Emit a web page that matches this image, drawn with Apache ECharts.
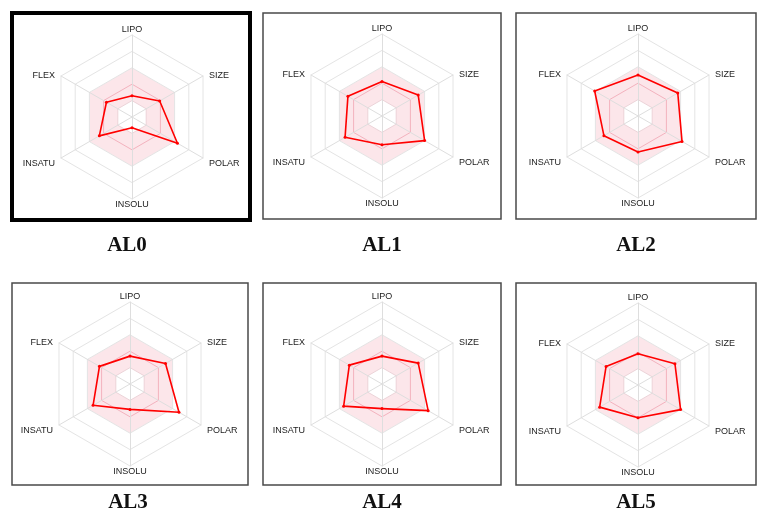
<!DOCTYPE html>
<html>
<head>
<meta charset="utf-8">
<script src="https://cdn.jsdelivr.net/npm/echarts@6/dist/echarts.min.js"></script>
<style>
  html, body { margin: 0; padding: 0; background: #fff; }
  #main { width: 768px; height: 512px; }
</style>
</head>
<body>
<div id="main"></div>
<script>
  // axes, clockwise from the top
  const axes = ['LIPO', 'SIZE', 'POLAR', 'INSOLU', 'INSATU', 'FLEX']
  const panelNames = ['AL0', 'AL1', 'AL2', 'AL3', 'AL4', 'AL5']

  // values per panel, same order as axes (scale 0-5)
  const al0 = [1.3, 1.95, 3.2, 0.65, 2.3, 1.8]
  const al1 = [2.1, 2.55, 3.0, 1.75, 2.6, 2.4]
  const al2 = [2.5, 2.8, 3.1, 2.2, 2.4, 3.05]
  const al3 = [1.7, 2.5, 3.45, 1.55, 2.6, 2.15]
  const al4 = [1.7, 2.55, 3.25, 1.5, 2.7, 2.3]
  const al5 = [1.9, 2.6, 3.0, 2.0, 2.7, 2.25]
  const panelValues = [al0, al1, al2, al3, al4, al5]

  // panel frames and chart centres (px)
  const frames = [
    [12, 13, 238, 207], [263, 13, 238, 206], [516, 13, 240, 206],
    [12, 283, 236, 202], [263, 283, 238, 202], [516, 283, 240, 202]
  ]
  const centers = [[132, 117], [382, 116], [638, 116], [130, 384], [382, 384], [638, 385]]
  const labelPos = [[127, 246], [382, 246], [636, 246], [128, 503], [382, 503], [636, 503]]

  // ECharts places indicators counter-clockwise, so reverse after the first
  const order = [0, 5, 4, 3, 2, 1]
  // lower side labels sit a little below their corner in the reference
  const lowSide = ['POLAR', 'INSATU']

  const pink = 'rgba(235, 60, 90, 0.13)'
  const nameFont = { color: '#222', fontSize: 9, fontFamily: 'Liberation Sans' }

  const radar = centers.map(c => ({
    center: c,
    radius: 82,
    startAngle: 90,
    shape: 'polygon',
    splitNumber: 5,
    nameGap: 1,
    indicator: order.map(i => ({ name: axes[i], min: 0, max: 5 })),
    axisName: {
      ...nameFont,
      padding: [0, 5],
      formatter: name => (lowSide.includes(name) ? '{low|' + name + '}' : name),
      rich: { low: { ...nameFont, padding: [10, 0, 0, 0] } }
    },
    axisLine: { lineStyle: { color: '#dedede', width: 1 } },
    splitLine: {
      lineStyle: { color: ['#e4e4e4', '#ecd3d8', '#f3b2be', '#e4e4e4', '#e4e4e4'], width: 1 }
    },
    splitArea: {
      show: true,
      areaStyle: { color: ['#ffffff', pink, pink, '#ffffff', '#ffffff'] }
    }
  }))

  const series = panelValues.map((vals, k) => ({
    type: 'radar',
    radarIndex: k,
    symbol: 'circle',
    symbolSize: 3,
    lineStyle: { color: '#ff0000', width: 1.6 },
    itemStyle: { color: '#ff0000' },
    data: [{ value: order.map(i => vals[i]), name: panelNames[k] }]
  }))

  const graphic = []
  frames.forEach((f, k) => {
    graphic.push({
      type: 'rect',
      silent: true,
      z: -1,
      shape: { x: f[0], y: f[1], width: f[2], height: f[3] },
      style: {
        fill: 'none',
        stroke: k === 0 ? '#000' : '#4a4a4a',
        lineWidth: k === 0 ? 4 : 1.5
      }
    })
  })
  labelPos.forEach((p, k) => {
    graphic.push({
      type: 'text',
      x: p[0],
      y: p[1],
      style: {
        text: panelNames[k],
        fill: '#111',
        font: 'bold 21px "Liberation Serif"',
        align: 'center',
        verticalAlign: 'middle'
      }
    })
  })

  const chart = echarts.init(document.getElementById('main'))
  chart.setOption({
    backgroundColor: '#fff',
    animation: false,
    radar: radar,
    series: series,
    graphic: graphic
  })
</script>
</body>
</html>
